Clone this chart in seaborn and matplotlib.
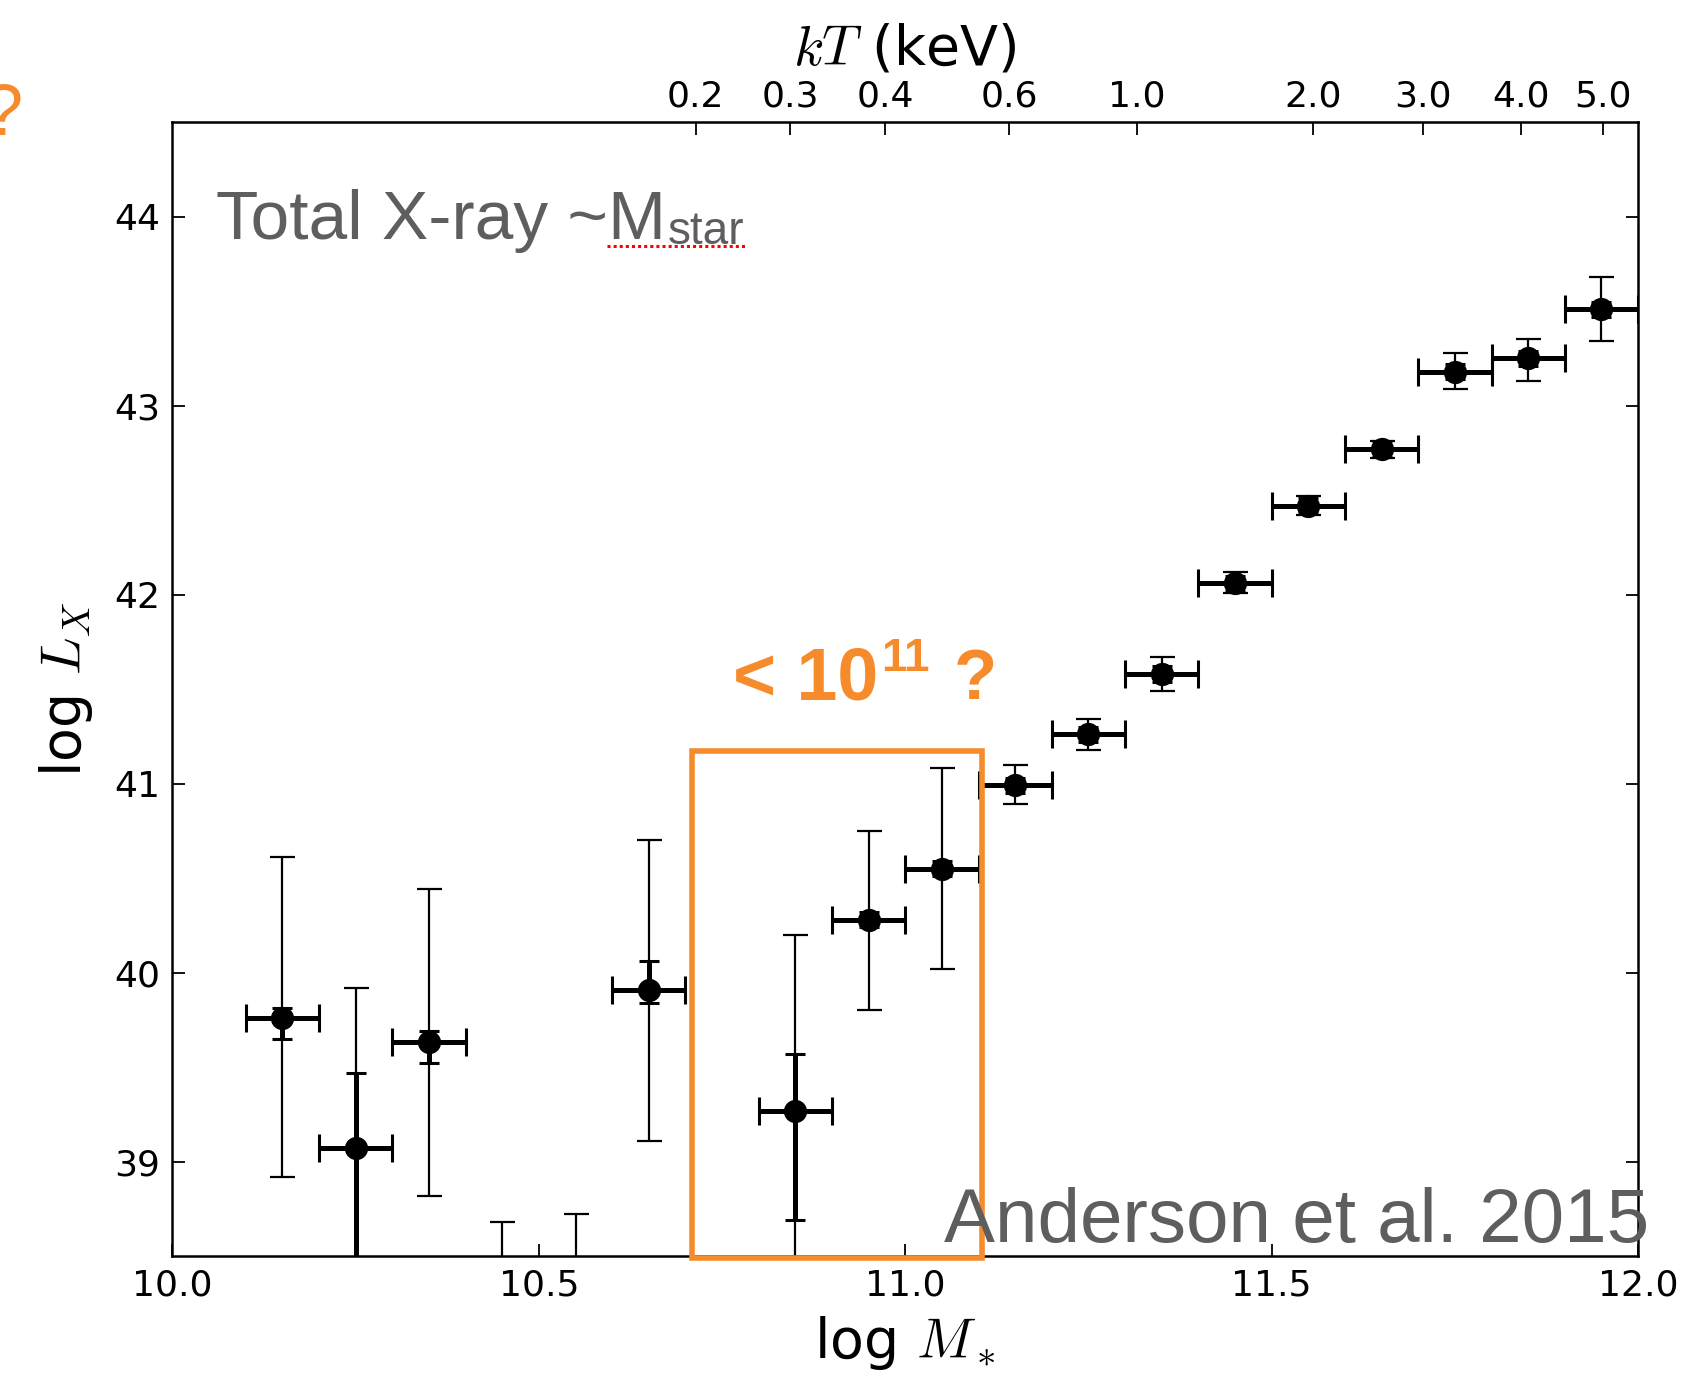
import numpy as np
import matplotlib
matplotlib.use("Agg")
import matplotlib.pyplot as plt
import seaborn as sns
from matplotlib.patches import Rectangle

# ---------------- data ----------------
log_mass = [10.15, 10.25, 10.35, 10.65, 10.85, 10.95, 11.05, 11.15, 11.25,
            11.35, 11.45, 11.55, 11.65, 11.75, 11.85, 11.95]
log_lx = [39.76, 39.07, 39.63, 39.91, 39.27, 40.28, 40.55, 40.99, 41.26,
          41.58, 42.06, 42.47, 42.77, 43.18, 43.25, 43.51]
# total (thin) error range
total_hi = [40.61, 39.92, 40.44, 40.70, 40.20, 40.75, 41.08, 41.10, 41.34,
            41.67, 42.12, 42.52, 42.81, 43.28, 43.35, 43.68]
total_lo = [38.92, 38.00, 38.82, 39.11, 38.00, 39.80, 40.02, 40.89, 41.18,
            41.49, 42.01, 42.42, 42.72, 43.09, 43.13, 43.34]
# statistical (thick) error range
stat_hi = [39.81, 39.47, 39.69, 40.06, 39.57, 40.32, 40.59, 41.03, 41.30,
           41.62, 42.10, 42.51, 42.81, 43.22, 43.29, 43.55]
stat_lo = [39.65, 38.00, 39.52, 39.84, 38.69, 40.24, 40.51, 40.95, 41.22,
           41.54, 42.02, 42.43, 42.73, 43.14, 43.21, 43.47]
bin_half_width = 0.05

# upper limits without detections
limit_mass = [10.45, 10.55]
limit_upper = [38.68, 38.72]

# top axis: gas temperature
kt_positions = [10.714, 10.843, 10.973, 11.142, 11.316, 11.556, 11.707, 11.840, 11.952]
kt_labels = ["0.2", "0.3", "0.4", "0.6", "1.0", "2.0", "3.0", "4.0", "5.0"]

x_ticks = [10.0, 10.5, 11.0, 11.5, 12.0]
y_ticks = [39, 40, 41, 42, 43, 44]

# highlighted box (log M range, log Lx range)
box_x = [10.709, 11.105]
box_y = [38.49, 41.17]

ORANGE = "#F68B2C"
GRAY = "#5E5E5E"

# ---------------- style ----------------
sns.set_style("ticks")
plt.rcParams["font.family"] = ["DejaVu Sans"]
plt.rcParams["mathtext.fontset"] = "cm"
for key in ["text.color", "axes.labelcolor", "xtick.color", "ytick.color",
            "axes.edgecolor"]:
    plt.rcParams[key] = "black"

fig = plt.figure(figsize=(16.91, 13.78), dpi=100)
ax = fig.add_axes([0.102, 0.0885, 0.8667, 0.8229])

lm = np.array(log_mass)
ly = np.array(log_lx)

# thin total errors
ax.errorbar(lm, ly, yerr=[ly - np.array(total_lo), np.array(total_hi) - ly],
            fmt="none", ecolor="black", elinewidth=1.6, capsize=9, capthick=1.6,
            zorder=2)
# thick statistical errors
ax.errorbar(lm, ly, yerr=[ly - np.array(stat_lo), np.array(stat_hi) - ly],
            fmt="none", ecolor="black", elinewidth=3.6, capsize=7, capthick=2.2,
            zorder=3)
# bin widths
ax.errorbar(lm, ly, xerr=bin_half_width, fmt="none", ecolor="black",
            elinewidth=3.6, capsize=10, capthick=2.2, zorder=3)
# upper limits
lu = np.array(limit_upper)
ax.errorbar(limit_mass, lu, yerr=[np.ones_like(lu), np.zeros_like(lu)],
            fmt="none", ecolor="black", elinewidth=1.6, capsize=9, capthick=1.6,
            zorder=2)

sns.scatterplot(x=log_mass, y=log_lx, ax=ax, color="black", s=280,
                marker="o", edgecolor="black", linewidth=0, zorder=4)

ax.set_xlim(10.0, 12.0)
ax.set_ylim(38.5, 44.5)
ax.set_xticks(x_ticks)
ax.set_xticklabels([f"{v:.1f}" for v in x_ticks])
ax.set_yticks(y_ticks)
ax.set_yticklabels([str(v) for v in y_ticks])
ax.tick_params(axis="both", direction="in", length=9, width=1.3,
               labelsize=26, pad=9, right=True, top=False, colors="black")
for s in ax.spines.values():
    s.set_linewidth(1.8)
    s.set_color("black")

ax.set_xlabel(r"log $M_*$", fontsize=40, labelpad=8)
ax.set_ylabel(r"log $L_X$", fontsize=40, labelpad=14)

secax = ax.secondary_xaxis("top")
secax.set_xticks(kt_positions)
secax.set_xticklabels(kt_labels)
secax.tick_params(direction="in", length=9, width=1.3, labelsize=26, pad=6,
                  colors="black")
secax.set_xlabel(r"$kT$ (keV)", fontsize=40, labelpad=11)

# highlighted box
rect = Rectangle((box_x[0], box_y[0]), box_x[1] - box_x[0], box_y[1] - box_y[0],
                 fill=False, edgecolor=ORANGE, linewidth=4.0, clip_on=False,
                 zorder=6)
ax.add_patch(rect)

# annotations
sans = ["Liberation Sans", "DejaVu Sans"]
fig.canvas.draw()
renderer = fig.canvas.get_renderer()
inv = ax.transAxes.inverted()
px_y = 1.0 / (ax.get_window_extent(renderer).height)


def after(text_obj, gap_px, y_frac):
    bb = text_obj.get_window_extent(renderer)
    x_frac = inv.transform((bb.x1 + gap_px, bb.y0))[0]
    return x_frac, y_frac


t_total = ax.text(0.030, 0.897, "Total X-ray ~M", transform=ax.transAxes,
                  fontsize=50, color=GRAY, family=sans, ha="left", va="baseline")
fig.canvas.draw()
sx, sy = after(t_total, 1, 0.897 - 5 * px_y)
t_star = ax.text(sx, sy, "star", transform=ax.transAxes, fontsize=33,
                 color=GRAY, family=sans, ha="left", va="baseline")
fig.canvas.draw()
bb_star = t_star.get_window_extent(renderer)
x_end = inv.transform((bb_star.x1 + 2, 0))[0]
ax.plot([0.2965, x_end], [sy - 2.5 * px_y] * 2, transform=ax.transAxes,
        color="red", linestyle=(0, (1, 1)), linewidth=2.2, clip_on=False)

ax.text(1.0075, 0.0125, "Anderson et al. 2015", transform=ax.transAxes,
        fontsize=55, color=GRAY, family=sans, ha="right", va="baseline",
        zorder=7)

t_lt = ax.text(0.3825, 0.491, "< 10", transform=ax.transAxes, fontsize=53,
               color=ORANGE, family=sans, fontweight="bold", ha="left",
               va="baseline")
fig.canvas.draw()
ex, _ = after(t_lt, 3, 0)
t_exp = ax.text(ex, 0.516, "11", transform=ax.transAxes, fontsize=33,
                color=ORANGE, family=sans, fontweight="bold", ha="left",
                va="baseline")
fig.canvas.draw()
qx, _ = after(t_exp, 24, 0)
ax.text(qx, 0.491, "?", transform=ax.transAxes, fontsize=51,
        color=ORANGE, family=sans, fontweight="bold", ha="left", va="baseline")

fig.text(0.0135, 0.902, "?", fontsize=52, color=ORANGE, family=sans,
         ha="right", va="baseline")

fig.savefig("out.png", dpi=100)
